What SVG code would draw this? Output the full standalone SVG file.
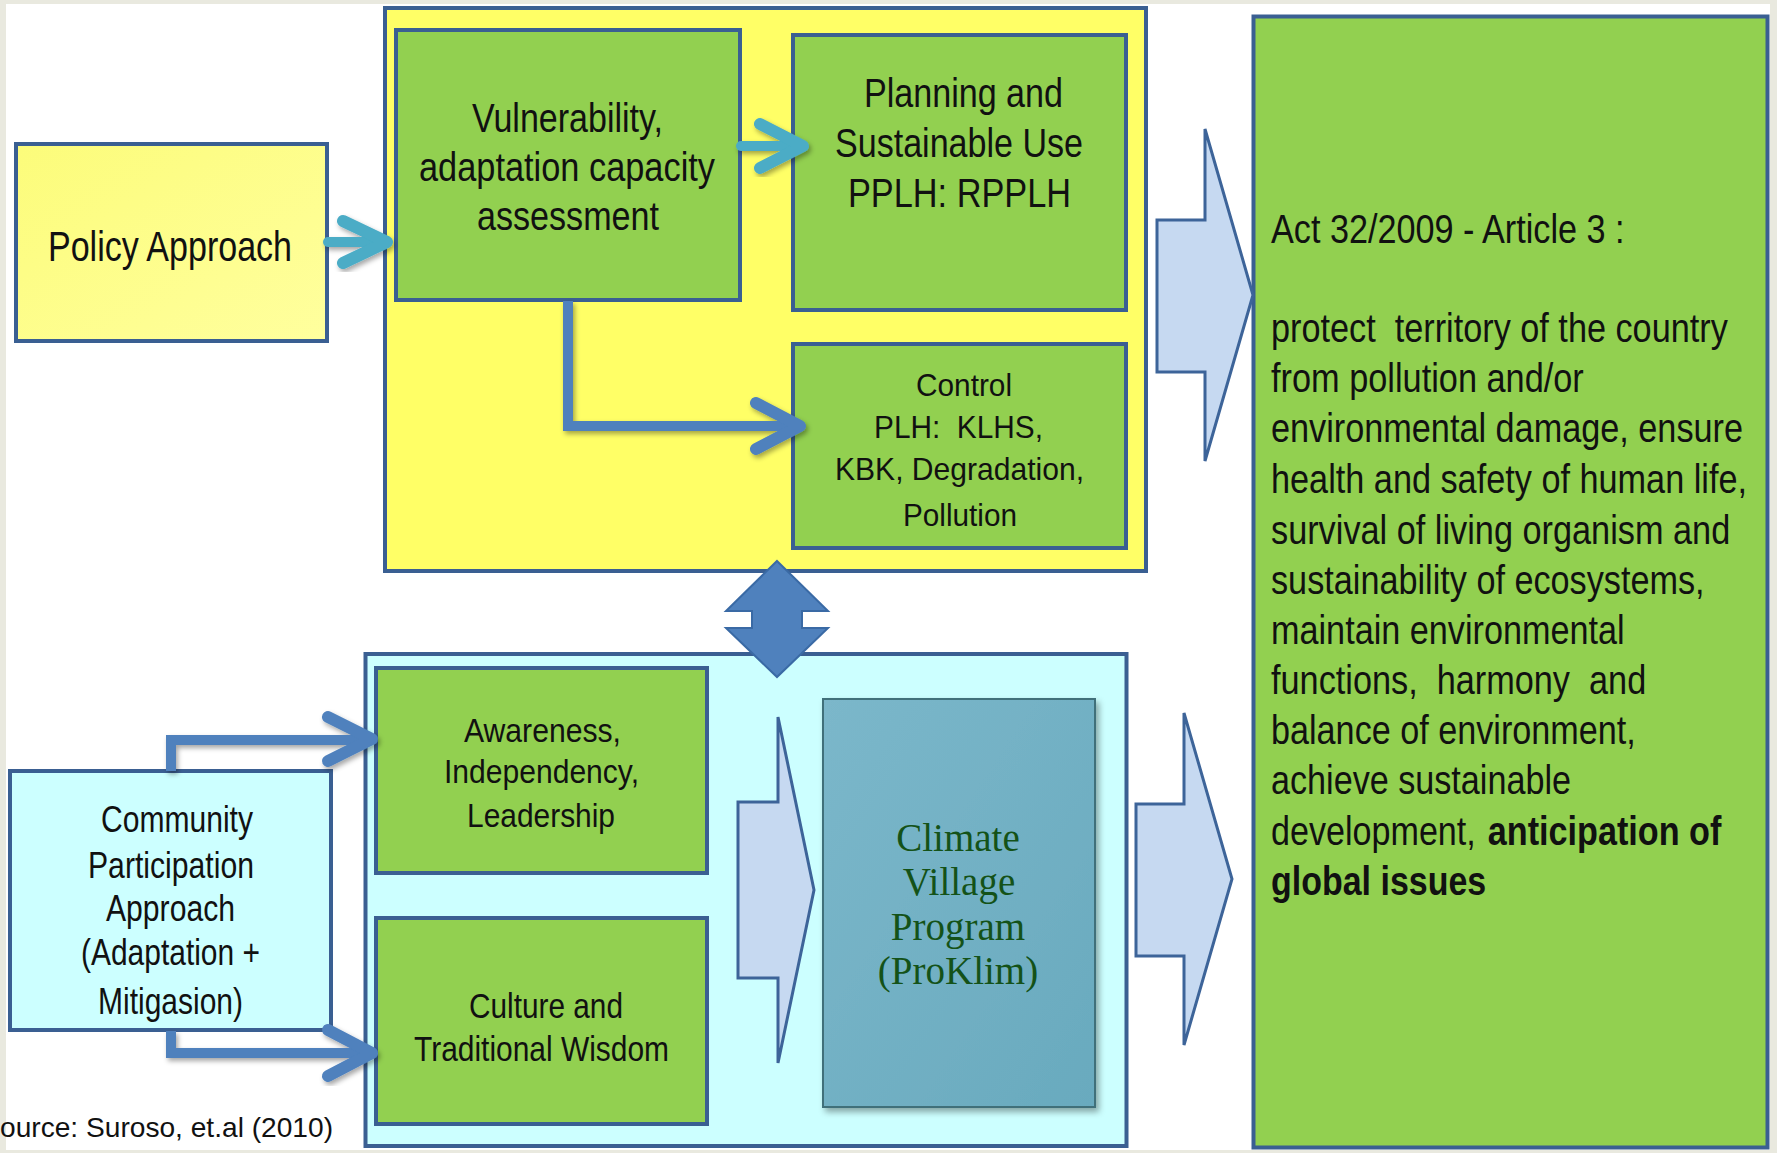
<svg xmlns="http://www.w3.org/2000/svg" width="1777" height="1153" viewBox="0 0 1777 1153">
  <defs>
    <linearGradient id="policyFill" x1="0" y1="0" x2="1" y2="1">
      <stop offset="0" stop-color="#fcfc7a"/>
      <stop offset="1" stop-color="#ffff9e"/>
    </linearGradient>
    <linearGradient id="climateFill" x1="0" y1="0" x2="1" y2="1">
      <stop offset="0" stop-color="#7bb7ca"/>
      <stop offset="1" stop-color="#69aabe"/>
    </linearGradient>
    <filter id="softShadow" x="-20%" y="-20%" width="140%" height="140%">
      <feDropShadow dx="2" dy="3" stdDeviation="2.5" flood-color="#000" flood-opacity="0.35"/>
    </filter>
    <filter id="boxShadow" x="-10%" y="-10%" width="130%" height="130%">
      <feDropShadow dx="3" dy="4" stdDeviation="3" flood-color="#000" flood-opacity="0.35"/>
    </filter>
  </defs>
  <style>
    .frame { fill: #e9e9df; }
    .page { fill: #ffffff; }
    .box { stroke: #3a5f92; stroke-width: 4; }
    .green { fill: #92d050; }
    .yellow { fill: #ffff66; }
    .cyan { fill: #ccffff; }
    .big-arrow { fill: #c6d9f1; stroke: #3d6499; stroke-width: 3; stroke-linejoin: miter; }
    .updown { fill: #4f81bd; stroke: #3a6aa5; stroke-width: 2; }
    .conn { fill: none; stroke-linecap: round; stroke-linejoin: round; filter: url(#softShadow); }
    .light { stroke: #4bacc6; }
    .dark { stroke: #4f81bd; }
    .shaft { stroke-width: 10; }
    .head { stroke-width: 12; }
    .t { font-family: "Liberation Sans Narrow", "Liberation Sans", Arial, sans-serif; fill: #111; }
    .serif { font-family: "Liberation Serif", "Times New Roman", serif; fill: #145218; font-size: 39px; text-anchor: middle; }
    .src { font-family: "Liberation Sans", Arial, sans-serif; fill: #111; font-size: 28px; }
  </style>

  <!-- page background with the thin grey frame -->
  <rect class="frame" x="0" y="0" width="1777" height="1153"/>
  <rect class="page" x="6" y="4" width="1764" height="1146"/>

  <!-- upper container: policy instruments -->
  <g id="policy-container">
    <rect class="box yellow" x="385" y="8" width="761" height="563"/>
  </g>

  <!-- lower container: community instruments -->
  <g id="community-container">
    <rect class="box cyan" x="365.5" y="654" width="761" height="492"/>
  </g>

  <g id="policy-approach">
    <rect class="box" fill="url(#policyFill)" x="16" y="144" width="311" height="197"/>
    <text class="t" x="48" y="261" font-size="42" textLength="244" lengthAdjust="spacingAndGlyphs">Policy Approach</text>
  </g>

  <g id="vulnerability">
    <rect class="box green" x="396" y="30" width="344" height="270"/>
    <text class="t" x="472" y="132" font-size="40" textLength="191" lengthAdjust="spacingAndGlyphs">Vulnerability,</text>
    <text class="t" x="419" y="181" font-size="40" textLength="296" lengthAdjust="spacingAndGlyphs">adaptation capacity</text>
    <text class="t" x="477" y="230" font-size="40" textLength="182" lengthAdjust="spacingAndGlyphs">assessment</text>
  </g>

  <g id="planning">
    <rect class="box green" x="793" y="35" width="333" height="275"/>
    <text class="t" x="864" y="107" font-size="40" textLength="199" lengthAdjust="spacingAndGlyphs">Planning and</text>
    <text class="t" x="835" y="157" font-size="40" textLength="248" lengthAdjust="spacingAndGlyphs">Sustainable Use</text>
    <text class="t" x="848" y="207" font-size="40" textLength="223" lengthAdjust="spacingAndGlyphs">PPLH: RPPLH</text>
  </g>

  <g id="control">
    <rect class="box green" x="793" y="344" width="333" height="204"/>
    <text class="t" x="916" y="396" font-size="32" textLength="96" lengthAdjust="spacingAndGlyphs">Control</text>
    <text class="t" x="874" y="438" font-size="32" textLength="169" lengthAdjust="spacingAndGlyphs" xml:space="preserve">PLH:  KLHS,</text>
    <text class="t" x="835" y="480" font-size="32" textLength="249" lengthAdjust="spacingAndGlyphs">KBK, Degradation,</text>
    <text class="t" x="903" y="526" font-size="32" textLength="114" lengthAdjust="spacingAndGlyphs">Pollution</text>
  </g>

  <g id="community-approach">
    <rect class="box cyan" x="10" y="771" width="321" height="259"/>
    <text class="t" x="101" y="832" font-size="36" textLength="152" lengthAdjust="spacingAndGlyphs">Community</text>
    <text class="t" x="88" y="878" font-size="36" textLength="166" lengthAdjust="spacingAndGlyphs">Participation</text>
    <text class="t" x="106" y="921" font-size="36" textLength="129" lengthAdjust="spacingAndGlyphs">Approach</text>
    <text class="t" x="81" y="965" font-size="36" textLength="179" lengthAdjust="spacingAndGlyphs">(Adaptation +</text>
    <text class="t" x="98" y="1014" font-size="36" textLength="145" lengthAdjust="spacingAndGlyphs">Mitigasion)</text>
  </g>

  <g id="awareness">
    <rect class="box green" x="376" y="668" width="331" height="205"/>
    <text class="t" x="464" y="742" font-size="34" textLength="157" lengthAdjust="spacingAndGlyphs">Awareness,</text>
    <text class="t" x="444" y="783" font-size="34" textLength="195" lengthAdjust="spacingAndGlyphs">Independency,</text>
    <text class="t" x="467" y="827" font-size="34" textLength="148" lengthAdjust="spacingAndGlyphs">Leadership</text>
  </g>

  <g id="culture">
    <rect class="box green" x="376" y="918" width="331" height="206"/>
    <text class="t" x="469" y="1018" font-size="35" textLength="154" lengthAdjust="spacingAndGlyphs">Culture and</text>
    <text class="t" x="414" y="1061" font-size="35" textLength="255" lengthAdjust="spacingAndGlyphs">Traditional Wisdom</text>
  </g>

  <g id="climate-village">
    <rect x="823" y="699" width="272" height="408" fill="url(#climateFill)" stroke="#3f6f7a" stroke-width="2" filter="url(#boxShadow)"/>
    <text class="serif" x="958" y="851">Climate</text>
    <text class="serif" x="959" y="895">Village</text>
    <text class="serif" x="958" y="940">Program</text>
    <text class="serif" x="958" y="984">(ProKlim)</text>
  </g>

  <g id="act-32-2009">
    <rect class="box green" x="1253.5" y="16.5" width="514" height="1131" stroke-width="5"/>
    <!-- narrow body text: horizontal scale 0.8, local x lengths are divided by 0.8 -->
    <g transform="translate(1271 0) scale(0.8 1)">
      <text class="t" x="0" y="243" font-size="40" textLength="442" lengthAdjust="spacingAndGlyphs">Act 32/2009 - Article 3 :</text>
      <text class="t" x="0" y="342" font-size="40" textLength="571" lengthAdjust="spacingAndGlyphs" xml:space="preserve">protect  territory of the country</text>
      <text class="t" x="0" y="392" font-size="40" textLength="391" lengthAdjust="spacingAndGlyphs">from pollution and/or</text>
      <text class="t" x="0" y="442" font-size="40" textLength="590" lengthAdjust="spacingAndGlyphs">environmental damage, ensure</text>
      <text class="t" x="0" y="493" font-size="40" textLength="595" lengthAdjust="spacingAndGlyphs">health and safety of human life,</text>
      <text class="t" x="0" y="544" font-size="40" textLength="574" lengthAdjust="spacingAndGlyphs">survival of living organism and</text>
      <text class="t" x="0" y="594" font-size="40" textLength="542" lengthAdjust="spacingAndGlyphs">sustainability of ecosystems,</text>
      <text class="t" x="0" y="644" font-size="40" textLength="442" lengthAdjust="spacingAndGlyphs">maintain environmental</text>
      <text class="t" x="0" y="694" font-size="40" textLength="469" lengthAdjust="spacingAndGlyphs" xml:space="preserve">functions,  harmony  and</text>
      <text class="t" x="0" y="744" font-size="40" textLength="456" lengthAdjust="spacingAndGlyphs">balance of environment,</text>
      <text class="t" x="0" y="794" font-size="40" textLength="375" lengthAdjust="spacingAndGlyphs">achieve sustainable</text>
      <text class="t" x="0" y="845" font-size="40" textLength="256" lengthAdjust="spacingAndGlyphs">development,</text>
      <text class="t" x="271" y="845" font-size="40" font-weight="bold" textLength="292" lengthAdjust="spacingAndGlyphs">anticipation of</text>
      <text class="t" x="0" y="895" font-size="40" font-weight="bold" textLength="269" lengthAdjust="spacingAndGlyphs">global issues</text>
    </g>
  </g>

  <!-- connectors: block arrows, up-down arrow and line arrows -->
  <g id="connectors">
    <polygon class="big-arrow" points="1157,220 1205,220 1205,129 1253,295 1205,461 1205,372 1157,372"/>
    <polygon class="big-arrow" points="738,802 778,802 778,717 814,890 778,1063 778,978 738,978"/>
    <polygon class="big-arrow" points="1136,804 1184,804 1184,713 1232,879 1184,1045 1184,956 1136,956"/>
    <polygon class="updown" points="777,561 828,611 802,611 802,628 828,628 777,677 726,628 752,628 752,611 726,611"/>

    <g class="conn light">
      <path class="shaft" d="M328 242 H384"/>
      <path class="head" d="M343 221 L387 242 L343 263"/>
    </g>
    <g class="conn light">
      <path class="shaft" d="M741 146 H800"/>
      <path class="head" d="M760 124 L803 146 L760 168"/>
    </g>
    <g class="conn dark">
      <path class="shaft" d="M568 301 V426 H797" stroke-width="11" stroke-linejoin="miter" stroke-linecap="butt"/>
      <path class="head" d="M756 403 L800 426 L756 449"/>
    </g>
    <g class="conn dark">
      <path class="shaft" d="M171 771 V740 H368" stroke-width="11" stroke-linejoin="miter" stroke-linecap="butt"/>
      <path class="head" d="M328 717 L372 739 L328 761"/>
    </g>
    <g class="conn dark">
      <path class="shaft" d="M171 1031 V1053 H368" stroke-width="11" stroke-linejoin="miter" stroke-linecap="butt"/>
      <path class="head" d="M328 1030 L372 1053 L328 1076"/>
    </g>
  </g>

  <text class="src" x="0" y="1137" textLength="333" lengthAdjust="spacingAndGlyphs">ource: Suroso, et.al (2010)</text>
</svg>
